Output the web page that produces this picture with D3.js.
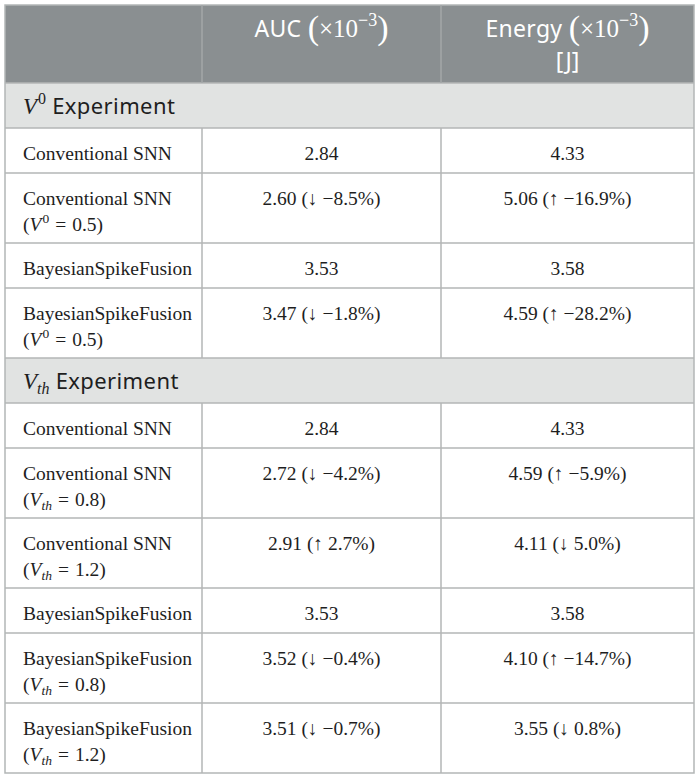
<!DOCTYPE html>
<html>
<head>
<meta charset="utf-8">
<script src="https://cdn.jsdelivr.net/npm/d3@7"></script>
<style>
  body { margin: 0; background: #fff; }
</style>
</head>
<body>
<svg id="chart"></svg>
<script>
// column headings
var colTitles = ["AUC", "Energy"];
var colUnits = ["", "[J]"];

// section headings (variable, subscript/superscript)
var sectionVar = ["0", "th"];
var sectionKind = ["sup", "sub"];

// table rows
var rowSection = [0, 0, 0, 0, 1, 1, 1, 1, 1, 1];
var rowModel = ["Conventional SNN", "Conventional SNN", "BayesianSpikeFusion", "BayesianSpikeFusion",
    "Conventional SNN", "Conventional SNN", "Conventional SNN",
    "BayesianSpikeFusion", "BayesianSpikeFusion", "BayesianSpikeFusion"];
var rowParam = [null, 0.5, null, 0.5, null, 0.8, 1.2, null, 0.8, 1.2];

var aucValues = [2.84, 2.60, 3.53, 3.47, 2.84, 2.72, 2.91, 3.53, 3.52, 3.51];
var aucDelta = ["", "↓ −8.5%", "", "↓ −1.8%", "", "↓ −4.2%", "↑ 2.7%", "", "↓ −0.4%", "↓ −0.7%"];
var energyValues = [4.33, 5.06, 3.58, 4.59, 4.33, 4.59, 4.11, 3.58, 4.10, 3.55];
var energyDelta = ["", "↑ −16.9%", "", "↑ −28.2%", "", "↑ −5.9%", "↓ 5.0%", "", "↑ −14.7%", "↓ 0.8%"];

var width = 700, height = 780;
var svg = d3.select("#chart").attr("width", width).attr("height", height);

var serif = "'Liberation Serif', 'Times New Roman', serif",
    sans = "'Noto Sans', 'Open Sans', sans-serif";
var fmt = d3.format(".2f");
var ink = "#1e1e1e";

// column edges
var colX = [5, 202, 441, 694];
var top0 = 5, headH = 78, secH = 45, lineH = 25, rowH = 45;

// build the list of bands (section rows + data rows)
var bands = [];
rowSection.forEach(function (s, i) {
    if (i === 0 || rowSection[i - 1] !== s) bands.push({ type: "section", s: s });
    bands.push({ type: "row", i: i, lines: rowParam[i] == null ? 1 : 2 });
});
var heights = bands.map(function (b) { return b.type === "section" ? secH : rowH + (b.lines - 1) * lineH; });
var ends = d3.cumsum(heights);
bands.forEach(function (b, k) {
    b.y0 = top0 + headH + (k ? ends[k - 1] : 0);
    b.y1 = top0 + headH + ends[k];
});
var bottom = bands[bands.length - 1].y1;

// header
svg.append("rect")
    .attr("x", colX[0]).attr("y", top0)
    .attr("width", colX[3] - colX[0]).attr("height", headH)
    .attr("fill", "#8a8f91");

colTitles.forEach(function (t, c) {
    var cx = (colX[c + 1] + colX[c + 2]) / 2;
    var txt = svg.append("text")
        .attr("x", cx).attr("y", top0 + 32)
        .attr("text-anchor", "middle")
        .attr("fill", "#fff");
    txt.append("tspan").attr("font-family", sans).attr("font-size", 23).attr("letter-spacing", 0.3).text(t + " ");
    txt.append("tspan").attr("font-family", serif).attr("font-size", 34).attr("dy", 2).text("(");
    txt.append("tspan").attr("font-family", serif).attr("font-size", 25).attr("dy", -2).text("×10");
    txt.append("tspan").attr("font-family", serif).attr("font-size", 18).attr("dy", -11).text("−3");
    txt.append("tspan").attr("font-family", serif).attr("font-size", 34).attr("dy", 13).text(")");
    if (colUnits[c]) {
        svg.append("text")
            .attr("x", cx).attr("y", top0 + 64)
            .attr("text-anchor", "middle")
            .attr("fill", "#fff")
            .attr("font-family", sans).attr("font-size", 23)
            .text(colUnits[c]);
    }
});

// section bands
var secs = bands.filter(function (b) { return b.type === "section"; });
svg.selectAll(".sec").data(secs).enter().append("rect")
    .attr("class", "sec")
    .attr("x", colX[0]).attr("y", function (d) { return d.y0; })
    .attr("width", colX[3] - colX[0]).attr("height", function (d) { return d.y1 - d.y0; })
    .attr("fill", "#e1e3e2");

secs.forEach(function (b) {
    var txt = svg.append("text")
        .attr("x", 23).attr("y", b.y0 + 31)
        .attr("fill", ink);
    txt.append("tspan").attr("font-family", serif).attr("font-style", "italic").attr("font-size", 23).text("V");
    if (sectionKind[b.s] === "sup") {
        txt.append("tspan").attr("font-family", serif).attr("font-size", 16).attr("dy", -10).attr("dx", 1).text(sectionVar[b.s]);
        txt.append("tspan").attr("font-family", sans).attr("font-size", 22).attr("letter-spacing", 0.4).attr("dy", 10).text(" Experiment");
    } else {
        txt.append("tspan").attr("font-family", serif).attr("font-style", "italic").attr("font-size", 16).attr("dy", 5).text(sectionVar[b.s]);
        txt.append("tspan").attr("font-family", sans).attr("font-size", 22).attr("letter-spacing", 0.4).attr("dy", -5).text(" Experiment");
    }
});

// data rows
var rows = bands.filter(function (b) { return b.type === "row"; });

rows.forEach(function (b) {
    var i = b.i, s = rowSection[i];
    var base = b.y0 + 32;
    svg.append("text")
        .attr("x", 23).attr("y", base)
        .attr("font-family", serif).attr("font-size", 19.5).attr("fill", ink)
        .text(rowModel[i]);
    if (rowParam[i] != null) {
        var t = svg.append("text")
            .attr("x", 23).attr("y", base + lineH + 1)
            .attr("font-family", serif).attr("font-size", 19.5).attr("fill", ink);
        t.append("tspan").text("(");
        t.append("tspan").attr("font-style", "italic").text("V");
        if (sectionKind[s] === "sup") {
            t.append("tspan").attr("font-size", 13.5).attr("dy", -8).attr("dx", 1).text(sectionVar[s]);
            t.append("tspan").attr("dy", 8).attr("dx", 6).text("=");
        } else {
            t.append("tspan").attr("font-size", 13.5).attr("font-style", "italic").attr("dy", 4).text(sectionVar[s]);
            t.append("tspan").attr("dy", -4).attr("dx", 6).text("=");
        }
        t.append("tspan").attr("dx", 6).text(rowParam[i] + ")");
    }
    [[aucValues, aucDelta], [energyValues, energyDelta]].forEach(function (col, c) {
        var v = fmt(col[0][i]) + (col[1][i] ? " (" + col[1][i] + ")" : "");
        svg.append("text")
            .attr("x", (colX[c + 1] + colX[c + 2]) / 2).attr("y", base)
            .attr("text-anchor", "middle")
            .attr("font-family", serif).attr("font-size", 19.5).attr("fill", ink)
            .text(v);
    });
});

// grid lines
var grid = svg.append("g").attr("stroke", "#b3b6b6").attr("stroke-width", 1.5).attr("fill", "none");
// vertical column separators in the body
rows.forEach(function (b) {
    [colX[1], colX[2]].forEach(function (x) {
        grid.append("line").attr("x1", x).attr("x2", x).attr("y1", b.y0).attr("y2", b.y1);
    });
});
// header separators (lighter)
[colX[1], colX[2]].forEach(function (x) {
    svg.append("line").attr("x1", x).attr("x2", x).attr("y1", top0).attr("y2", top0 + headH)
        .attr("stroke", "#a3a7a8").attr("stroke-width", 1.5);
});
// horizontal lines
bands.forEach(function (b) {
    grid.append("line").attr("x1", colX[0]).attr("x2", colX[3]).attr("y1", b.y0).attr("y2", b.y0);
});
// outer border
grid.append("rect")
    .attr("x", colX[0]).attr("y", top0)
    .attr("width", colX[3] - colX[0]).attr("height", bottom - top0);
</script>
</body>
</html>
